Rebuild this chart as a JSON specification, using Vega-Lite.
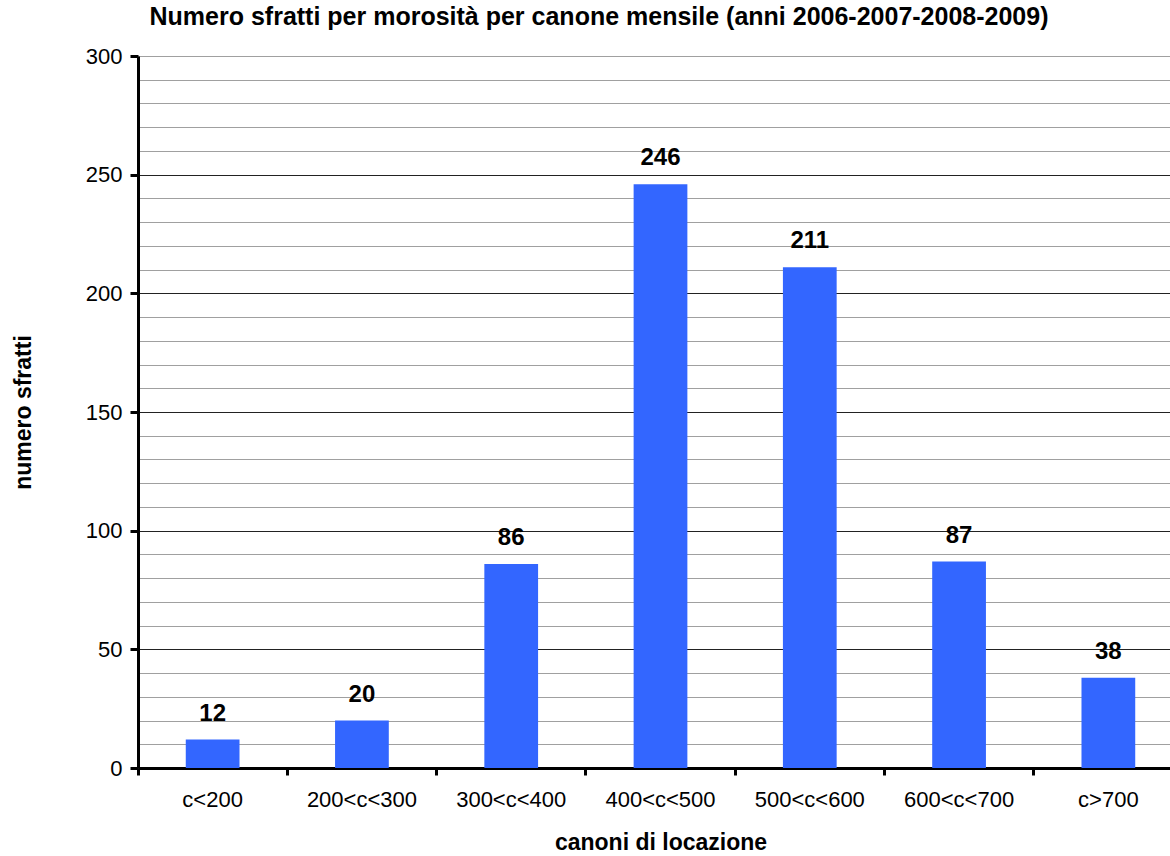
{
  "$schema": "https://vega.github.io/schema/vega-lite/v6.json",
  "width": 1032,
  "height": 712,
  "autosize": {"type": "none"},
  "padding": {"left": 138, "top": 56, "right": 0, "bottom": 88},
  "background": "white",
  "config": {"view": {"stroke": null}, "font": "Liberation Sans"},
  "title": {
    "text": "Numero sfratti per morosità per canone mensile (anni 2006-2007-2008-2009)",
    "fontSize": 25,
    "fontWeight": "bold",
    "font": "Liberation Sans",
    "color": "black",
    "anchor": "middle",
    "dx": -55,
    "offset": 15
  },
  "data": {
    "values": [
      {"canone": "c<200", "n": 12},
      {"canone": "200<c<300", "n": 20},
      {"canone": "300<c<400", "n": 86},
      {"canone": "400<c<500", "n": 246},
      {"canone": "500<c<600", "n": 211},
      {"canone": "600<c<700", "n": 87},
      {"canone": "c>700", "n": 38}
    ]
  },
  "encoding": {
    "x": {
      "field": "canone",
      "type": "nominal",
      "sort": null,
      "scale": {"range": [0, 1045], "paddingInner": 0, "paddingOuter": 0},
      "axis": {
        "bandPosition": 0,
        "labelAngle": 0,
        "labelOverlap": false,
        "labelBound": false,
        "labelFlush": false,
        "labelFontSize": 22,
        "labelColor": "black",
        "labelPadding": 14,
        "tickSize": 7,
        "tickWidth": 3,
        "tickColor": "black",
        "domainWidth": 3,
        "domainColor": "black",
        "grid": false,
        "title": "canoni di locazione",
        "titleFontSize": 23,
        "titleFontWeight": "bold",
        "titleColor": "black",
        "titlePadding": 21
      }
    },
    "y": {
      "field": "n",
      "type": "quantitative",
      "scale": {"domain": [0, 300], "nice": false},
      "axis": {
        "values": [0, 10, 20, 30, 40, 50, 60, 70, 80, 90, 100, 110, 120, 130, 140, 150, 160, 170, 180, 190, 200, 210, 220, 230, 240, 250, 260, 270, 280, 290, 300],
        "labelExpr": "datum.value % 50 === 0 ? datum.label : ''",
        "grid": true,
        "gridColor": {"condition": {"test": "datum.value % 50 === 0 && datum.value < 300 && datum.value > 0", "value": "#222222"}, "value": "#a0a0a0"},
        "gridWidth": 1,
        "tickOpacity": {"condition": {"test": "datum.value % 50 === 0", "value": 1}, "value": 0},
        "tickSize": 8,
        "tickWidth": 3,
        "tickColor": "black",
        "domainWidth": 3,
        "domainColor": "black",
        "labelFontSize": 22,
        "labelColor": "black",
        "labelPadding": 8,
        "title": "numero sfratti",
        "titleFontSize": 23,
        "titleFontWeight": "bold",
        "titleColor": "black",
        "titlePadding": 50
      }
    }
  },
  "layer": [
    {"mark": {"type": "bar", "width": {"band": 0.36}, "color": "#3366FF"}},
    {
      "mark": {"type": "text", "dy": -19, "fontSize": 24, "fontWeight": "bold", "baseline": "alphabetic", "color": "black"},
      "encoding": {"text": {"field": "n", "type": "quantitative"}}
    }
  ]
}
